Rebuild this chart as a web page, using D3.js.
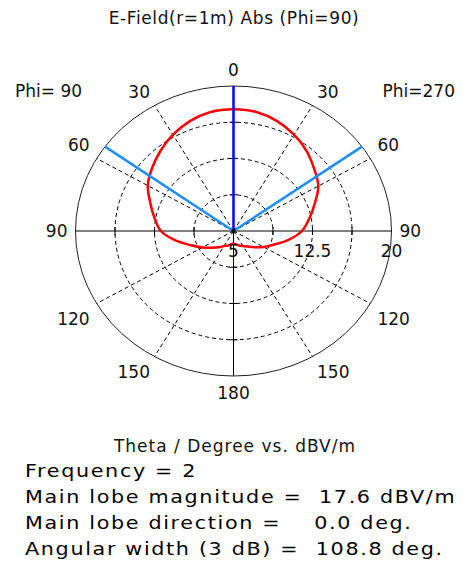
<!DOCTYPE html>
<html>
<head>
<meta charset="utf-8">
<script src="https://cdn.jsdelivr.net/npm/d3@7"></script>
<style>
  body { margin: 0; background: #fff; }
  svg { display: block; }
  text { font-family: "DejaVu Sans", Verdana, sans-serif; fill: #111; }
</style>
</head>
<body>
<svg id="chart" width="466" height="565"></svg>
<script>
// ---- data ----
const thetaDeg = [0, 10, 20, 30, 40, 50, 60, 70, 80, 90, 100, 110, 120, 130, 140, 150, 160, 170, 180];
const phi270Values = [17.6, 17.5, 17.1, 16.5, 15.8, 15.0, 14.3, 13.2, 12.3, 11.5, 10.3, 9.1, 8.3, 7.6, 7.1, 6.8, 6.6, 6.4, 6.3];
const phi90Values  = [17.6, 17.5, 17.1, 16.5, 15.8, 15.1, 14.4, 13.4, 12.6, 11.9, 10.6, 9.3, 8.4, 7.7, 7.2, 6.8, 6.6, 6.4, 6.3];
const angleTicks = [30, 60, 90, 120, 150];
const radialGrid = [5, 8.75, 12.5, 16.25, 20];
const radialTickLabels = [5, 12.5, 20];
const mainLobeDirection = 0;
const beamWidth = 108.8;
const titleText = "E-Field(r=1m) Abs (Phi=90)";
const leftSideLabel = "Phi= 90";
const rightSideLabel = "Phi=270";
const axisTitle = "Theta / Degree vs. dBV/m";
const infoLines = [
  "Frequency = 2",
  "Main lobe magnitude =  17.6 dBV/m",
  "Main lobe direction =    0.0 deg.",
  "Angular width (3 dB) =  108.8 deg."
];

// ---- geometry ----
const svg = d3.select("#chart");
const cx = 233.5, cy = 231, rx = 158, ry = 145;
const rScale = d3.scaleLinear().domain([5, 20]).range([0, 1]);
const aScale = d3.scaleLinear().domain([0, 360]).range([0, 2 * Math.PI]);
function pt(theta, v) {
  const a = aScale(theta), u = rScale(v);
  return [cx + rx * u * Math.sin(a), cy - ry * u * Math.cos(a)];
}
const rMax = d3.max(radialGrid);

// grid ellipses
const g = svg.append("g");
radialGrid.slice(1).forEach(v => {
  const outer = v === rMax;
  g.append("ellipse")
    .attr("cx", cx).attr("cy", cy)
    .attr("rx", rx * rScale(v)).attr("ry", ry * rScale(v))
    .attr("fill", "none")
    .attr("stroke", outer ? "#222" : "#000")
    .attr("stroke-width", 1)
    .attr("stroke-dasharray", outer ? null : "4,3");
});

// dashed spokes
[-1, 1].forEach(s => {
  angleTicks.filter(t => t !== 90).forEach(t => {
    const p = pt(s * t, rMax);
    g.append("line")
      .attr("x1", cx).attr("y1", cy).attr("x2", p[0]).attr("y2", p[1])
      .attr("stroke", "#000").attr("stroke-width", 1).attr("stroke-dasharray", "4,3");
  });
});

// solid axes
const pL = pt(-90, rMax), pR = pt(90, rMax), pT = pt(0, rMax), pB = pt(180, rMax);
g.append("line").attr("x1", pL[0]).attr("y1", cy).attr("x2", pR[0]).attr("y2", cy)
  .attr("stroke", "#000").attr("stroke-width", 1);
g.append("line").attr("x1", cx).attr("y1", pT[1]).attr("x2", cx).attr("y2", pB[1])
  .attr("stroke", "#000").attr("stroke-width", 1);

// axis ticks
radialGrid.slice(1, -1).forEach(v => {
  [-1, 1].forEach(s => {
    const x = cx + s * rx * rScale(v);
    g.append("line").attr("x1", x).attr("x2", x).attr("y1", cy - 4).attr("y2", cy + 4)
      .attr("stroke", "#000").attr("stroke-width", 1);
    const y = cy + s * ry * rScale(v);
    g.append("line").attr("x1", cx - 4).attr("x2", cx + 4).attr("y1", y).attr("y2", y)
      .attr("stroke", "#000").attr("stroke-width", 1);
  });
});

// pattern curve
const pattern = [];
for (let i = thetaDeg.length - 1; i >= 0; i--) pattern.push([-thetaDeg[i], phi90Values[i]]);
for (let i = 1; i < thetaDeg.length; i++) pattern.push([thetaDeg[i], phi270Values[i]]);
const line = d3.line()
  .x(d => pt(d[0], d[1])[0])
  .y(d => pt(d[0], d[1])[1])
  .curve(d3.curveCatmullRom.alpha(0.5));
svg.append("path").datum(pattern)
  .attr("d", line)
  .attr("fill", "none").attr("stroke", "#ff0000").attr("stroke-width", 2.5)
  .attr("stroke-linejoin", "round");

// main lobe / beam width lines
[-beamWidth / 2, beamWidth / 2].forEach(t => {
  const p = pt(mainLobeDirection + t, rMax);
  svg.append("line").attr("x1", cx).attr("y1", cy).attr("x2", p[0]).attr("y2", p[1])
    .attr("stroke", "#1e8fff").attr("stroke-width", 2.5);
});
const pm = pt(mainLobeDirection, rMax);
svg.append("line").attr("x1", cx).attr("y1", cy).attr("x2", pm[0]).attr("y2", pm[1])
  .attr("stroke", "#0000ff").attr("stroke-width", 2.5);
svg.append("circle").attr("cx", cx).attr("cy", cy).attr("r", 2.2).attr("fill", "#000");

// angle labels
const labelFont = 17;
svg.append("text").attr("x", cx).attr("y", pT[1] - 10).attr("text-anchor", "middle")
  .attr("font-size", labelFont).text(0);
svg.append("text").attr("x", cx).attr("y", pB[1] + 22.5).attr("text-anchor", "middle")
  .attr("font-size", labelFont).text(180);
[-1, 1].forEach(s => {
  angleTicks.forEach(t => {
    const p = pt(s * t, rMax);
    const a = aScale(t);
    const pad = 1 + 7 * Math.abs(Math.sin(a));
    const c = Math.cos(a);
    let y;
    if (c > 0.01) y = p[1] - 7.5;
    else if (c < -0.01) y = p[1] + 21.5;
    else y = p[1] + 6.3;
    svg.append("text")
      .attr("x", p[0] + s * pad).attr("y", y)
      .attr("text-anchor", s < 0 ? "end" : "start")
      .attr("font-size", labelFont).text(t);
  });
});

// radial labels
radialTickLabels.forEach(v => {
  svg.append("text").attr("x", cx + rx * rScale(v)).attr("y", cy + 26)
    .attr("text-anchor", "middle").attr("font-size", labelFont).text(v);
});

// side labels
svg.append("text").attr("x", 15).attr("y", 97).attr("font-size", labelFont)
  .style("white-space", "pre").text(leftSideLabel);
svg.append("text").attr("x", 455).attr("y", 97).attr("text-anchor", "end").attr("font-size", labelFont)
  .text(rightSideLabel);

// title
svg.append("text").attr("x", 234).attr("y", 24).attr("text-anchor", "middle")
  .attr("font-size", 17).attr("letter-spacing", 0.6).text(titleText);

// bottom texts
svg.append("text").attr("x", 235).attr("y", 452).attr("text-anchor", "middle")
  .attr("font-size", 17).attr("letter-spacing", 1).text(axisTitle);
infoLines.forEach((s, i) => {
  svg.append("text")
    .attr("transform", `translate(25,${477 + i * 26}) scale(1.15,1)`)
    .attr("font-size", 18).attr("letter-spacing", 1.45)
    .style("white-space", "pre").style("fill", "#000").text(s);
});
</script>
</body>
</html>
